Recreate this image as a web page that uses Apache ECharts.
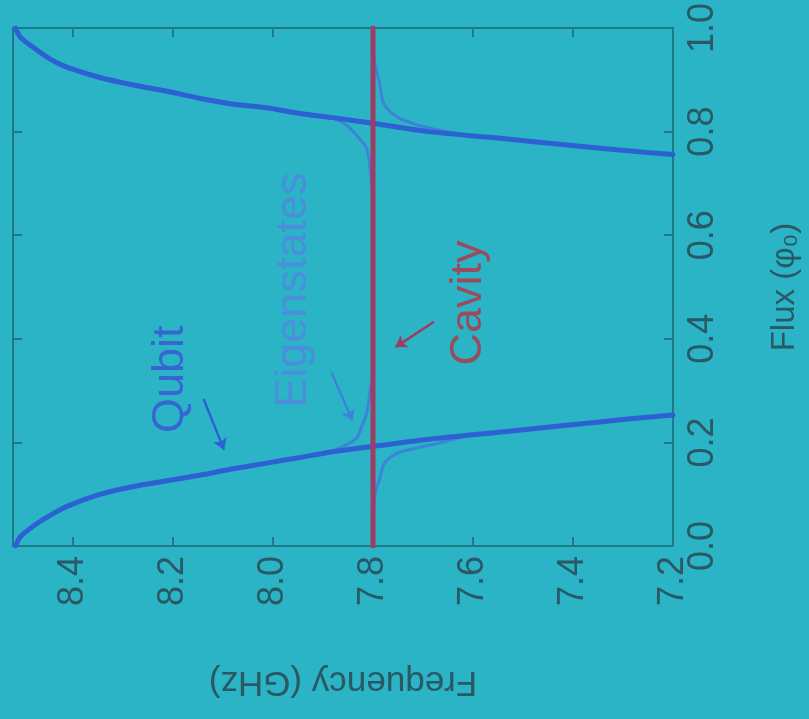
<!DOCTYPE html>
<html>
<head>
<meta charset="utf-8">
<script src="https://cdn.jsdelivr.net/npm/echarts/dist/echarts.min.js"></script>
<style>
html,body{margin:0;padding:0;background:#2ab4c6;}
#chart{width:809px;height:719px;}
</style>
</head>
<body>
<div id="chart"></div>
<script>
// ---- data (frequency in GHz, flux in units of phi0) ----
const freqTicks = [7.2, 7.4, 7.6, 7.8, 8.0, 8.2, 8.4];
const fluxTicks = [0.0, 0.2, 0.4, 0.6, 0.8, 1.0];

const qubitLower = [
  [8.515, 0.000], [8.505, 0.018], [8.477, 0.040], [8.444, 0.060], [8.411, 0.077],
  [8.345, 0.100], [8.279, 0.115], [8.212, 0.126], [8.145, 0.137], [8.080, 0.149],
  [8.013, 0.160], [7.946, 0.171], [7.881, 0.182], [7.801, 0.192], [7.688, 0.206],
  [7.554, 0.219], [7.423, 0.232], [7.290, 0.245], [7.200, 0.253]
];
const qubitUpper = [
  [7.200, 0.756], [7.290, 0.763], [7.422, 0.775], [7.555, 0.788], [7.688, 0.800],
  [7.800, 0.816], [7.880, 0.827], [7.946, 0.835], [8.013, 0.846], [8.079, 0.853],
  [8.145, 0.864], [8.212, 0.878], [8.279, 0.890], [8.345, 0.904], [8.411, 0.924],
  [8.444, 0.939], [8.477, 0.961], [8.505, 0.982], [8.515, 1.000]
];
const cavity = [[7.8, 0.0], [7.8, 1.0]];

const eigenLowUpper = [
  [7.950, 0.171], [7.887, 0.182], [7.861, 0.192], [7.833, 0.208], [7.821, 0.235],
  [7.813, 0.255], [7.807, 0.290], [7.801, 0.330]
];
const eigenLowLower = [
  [7.800, 0.060], [7.795, 0.105], [7.787, 0.128], [7.779, 0.156], [7.767, 0.170],
  [7.747, 0.181], [7.714, 0.189], [7.668, 0.199], [7.620, 0.211]
];
const eigenHighUpper = [
  [7.946, 0.835], [7.880, 0.825], [7.851, 0.811], [7.833, 0.793], [7.813, 0.768],
  [7.806, 0.730], [7.801, 0.680]
];
const eigenHighLower = [
  [7.620, 0.794], [7.668, 0.803], [7.718, 0.815], [7.753, 0.829], [7.773, 0.846],
  [7.781, 0.861], [7.786, 0.890], [7.795, 0.925], [7.800, 0.955]
];

const labels = ['Qubit', 'Eigenstates', 'Cavity'];

// ---- styles ----
const FONT = 'Liberation Sans';
const axisColor = '#1f7a88';
const textColor = '#2a5865';
const qubitColor = '#2d60d2';
const eigenColor = '#3c84d8';
const cavityColor = '#a03c62';

const chart = echarts.init(document.getElementById('chart'), null, {renderer: 'canvas'});

function fmt(list) {
  return v => list.some(t => Math.abs(t - v) < 1e-6) ? v.toFixed(1) : '';
}

function axisBase() {
  return {
    type: 'value',
    axisLine: {show: true, onZero: false, lineStyle: {color: axisColor, width: 2}},
    axisTick: {show: true, inside: true, length: 9, lineStyle: {color: axisColor, width: 2}},
    splitLine: {show: false}
  };
}

function lineSeries(name, data, color, width, z) {
  return {
    type: 'line', name: name, data: data, showSymbol: false, symbol: 'none',
    smooth: 0.3, xAxisIndex: 0, yAxisIndex: 0, z: z,
    lineStyle: {color: color, width: width, cap: 'round'}, animation: false
  };
}

const option = {
  backgroundColor: '#2ab4c6',
  animation: false,
  grid: {left: 13, right: 133, top: 20, bottom: 173},
  xAxis: [
    Object.assign(axisBase(), {
      min: 7.2, max: 8.52, interval: 0.2, inverse: true, position: 'bottom',
      axisLabel: {rotate: 90, fontSize: 36, color: textColor, fontFamily: FONT, margin: 10,
        formatter: fmt(freqTicks), showMaxLabel: false},
      name: 'Frequency (GHz)', nameLocation: 'middle', nameRotate: 180, nameGap: 118,
      nameTextStyle: {fontSize: 35, color: textColor, fontFamily: FONT}
    }),
    Object.assign(axisBase(), {
      min: 7.2, max: 8.52, interval: 0.2, inverse: true, position: 'top',
      axisLabel: {show: false}
    })
  ],
  yAxis: [
    Object.assign(axisBase(), {
      min: 0, max: 1, interval: 0.2, position: 'right',
      axisLabel: {rotate: 90, fontSize: 36, color: textColor, fontFamily: FONT, margin: 12,
        formatter: fmt(fluxTicks)},
      name: 'Flux (\u03c6\u2080)', nameLocation: 'middle', nameRotate: 90, nameGap: 95,
      nameTextStyle: {fontSize: 33, color: textColor, fontFamily: FONT}
    }),
    Object.assign(axisBase(), {
      min: 0, max: 1, interval: 0.2, position: 'left',
      axisLabel: {show: false}
    })
  ],
  series: [
    lineSeries('Eigenstates', eigenLowUpper, eigenColor, 3, 2),
    lineSeries('Eigenstates', eigenLowLower, eigenColor, 3, 2),
    lineSeries('Eigenstates', eigenHighUpper, eigenColor, 3, 2),
    lineSeries('Eigenstates', eigenHighLower, eigenColor, 3, 2),
    lineSeries('Qubit', qubitLower, qubitColor, 5, 3),
    lineSeries('Qubit', qubitUpper, qubitColor, 5, 3),
    Object.assign(lineSeries('Cavity', cavity, cavityColor, 5, 4), {smooth: false,
      markLine: {
        silent: true, symbol: ['none', 'arrow'], symbolSize: 11, animation: false,
        label: {show: false},
        data: [
          [{coord: [8.139, 0.284], lineStyle: {color: qubitColor, width: 2.5, type: 'solid'}}, {coord: [8.098, 0.186]}],
          [{coord: [7.883, 0.335], lineStyle: {color: eigenColor, width: 2.5, type: 'solid'}}, {coord: [7.841, 0.242]}],
          [{coord: [7.678, 0.433], lineStyle: {color: cavityColor, width: 2.5, type: 'solid'}}, {coord: [7.755, 0.384]}]
        ]
      }
    })
  ]
};

chart.setOption(option);

// annotation texts, placed in data coordinates
const labelAt = [[8.205, 0.322], [7.958, 0.494], [7.608, 0.469]];
const labelColors = ['#3566d2', '#4a8edc', '#9a4c5c'];
const graphics = labels.map((t, i) => {
  const p = chart.convertToPixel({xAxisIndex: 0, yAxisIndex: 0}, labelAt[i]);
  return {
    type: 'text', x: p[0], y: p[1], rotation: Math.PI / 2, z: 10,
    style: {text: t, fontSize: 45, fontFamily: FONT, fill: labelColors[i],
      align: 'center', verticalAlign: 'middle'}
  };
});
chart.setOption({graphic: graphics});
</script>
</body>
</html>
